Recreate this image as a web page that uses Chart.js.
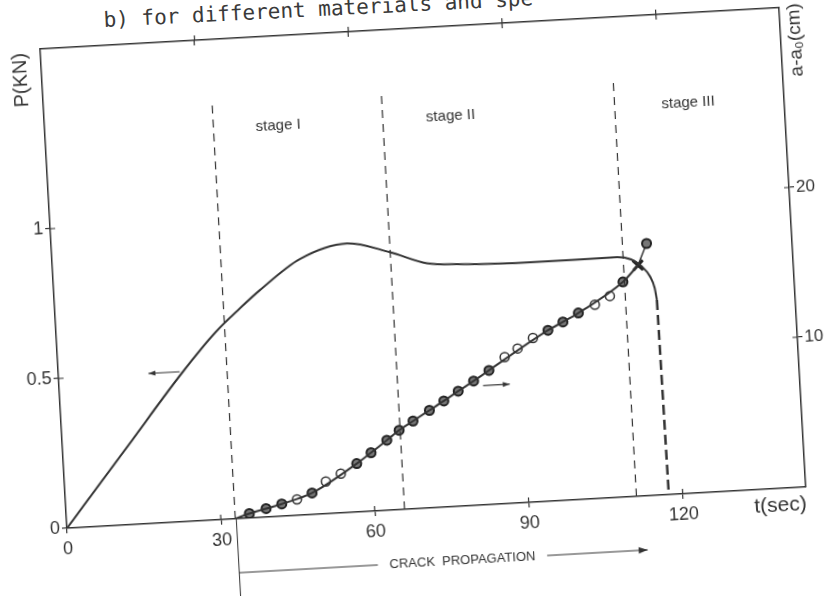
<!DOCTYPE html>
<html>
<head>
<meta charset="utf-8">
<script src="https://cdn.jsdelivr.net/npm/chart.js@4.4.1/dist/chart.umd.min.js"></script>
<style>
    html, body { margin: 0; padding: 0; background: #fff; overflow: hidden; }
    body { width: 829px; height: 596px; position: relative; }
    /* the scanned figure sits a little skewed on the page */
    #wrap { position: absolute; left: 0; top: 0; width: 829px; height: 596px;
            transform-origin: 423px 268px; transform: rotate(-3.2deg); }
    #caption { position: absolute; left: 103px; top: 8px; white-space: nowrap;
               font: 21px 'DejaVu Sans Mono', monospace; color: #3a3a3a;
               transform-origin: 0 0; transform: rotate(-2.9deg); }
</style>
</head>
<body>
<div id="caption">b) for different materials and spe</div>
<div id="wrap"><canvas id="chart" width="829" height="596"></canvas></div>
<script>
// axes
const tMax = 144;
const pMax = 1.6;
const aMax = 32;
const tickT = [0, 30, 60, 90, 120];
const topTickT = [30, 60, 90, 120];
const tickP = [0, 0.5, 1];
const tickA = [10, 20];

// load P (kN) against time
const loadT = [0, 12.5, 24, 31, 36, 40.1, 48.2, 57.5, 65.7, 72.8, 79.2, 93.4, 109.8, 112.5, 114.5, 116, 116.8, 117.1];
const loadP = [0, 0.258, 0.495, 0.625, 0.7, 0.757, 0.853, 0.896, 0.859, 0.815, 0.806, 0.799, 0.80, 0.79, 0.765, 0.73, 0.69, 0.65];
// final drop (dashed)
const dropT = [117.1, 117.3];
const dropP = [0.65, 0];

// crack length a-a0 (cm)
const crackT = [32.7, 35.6, 38.9, 42.0, 48.0, 57.0, 59.9, 63.1, 65.6, 68.4, 71.7, 74.6, 77.5, 80.6, 83.7, 95.6, 98.6, 101.7, 110.7, 113.8];
const crackA = [0, 0.3, 0.57, 0.82, 1.44, 3.23, 3.9, 4.67, 5.29, 5.85, 6.5, 7.07, 7.67, 8.29, 8.94, 11.39, 11.89, 12.43, 14.33, 15.38];
const fillT = [35.6, 38.9, 42.0, 48.0, 57.0, 59.9, 63.1, 65.6, 68.4, 71.7, 74.6, 77.5, 80.6, 83.7, 95.6, 98.6, 101.7, 110.7];
const fillA = [0.3, 0.57, 0.82, 1.44, 3.23, 3.9, 4.67, 5.29, 5.85, 6.5, 7.07, 7.67, 8.29, 8.94, 11.39, 11.89, 12.43, 14.33];
const openT = [45.0, 50.8, 53.8, 86.9, 89.5, 92.6, 105.0, 108.0];
const openA = [1.07, 2.15, 2.62, 9.77, 10.29, 10.93, 12.92, 13.44];
const tipT = [113.8, 115.7];
const tipA = [15.38, 16.8];

// stage boundaries
const stageT = [32.8, 65.8, 111];
const stageTop = 1.38;
const stageNames = ['stage I', 'stage II', 'stage III'];
const stageLabelT = [45.4, 79, 125.3];

const ink = '#333';
const sans = "'Liberation Sans', Arial, sans-serif";

const pts = (xs, ys) => xs.map((x, i) => ({ x: x, y: ys[i] }));

function arrow(ctx, x1, y1, x2, y2, head) {
    ctx.beginPath();
    ctx.moveTo(x1, y1);
    ctx.lineTo(x2, y2);
    ctx.stroke();
    const dir = Math.sign(x2 - x1);
    ctx.beginPath();
    ctx.moveTo(x2, y2);
    ctx.lineTo(x2 - dir * head, y2 - head * 0.35);
    ctx.lineTo(x2 - dir * head, y2 + head * 0.35);
    ctx.closePath();
    ctx.fill();
}

function vtext(ctx, str, cx, cy, font) {
    ctx.save();
    ctx.translate(cx, cy);
    ctx.rotate(-Math.PI / 2);
    ctx.font = font;
    ctx.textAlign = 'center';
    ctx.textBaseline = 'middle';
    ctx.fillText(str, 0, 0);
    ctx.restore();
}

// labels, arrows and the inner half of each tick cross
const extras = {
    id: 'extras',
    afterDraw(chart) {
        const { ctx, chartArea: area } = chart;
        const { x, x2, y, y2 } = chart.scales;
        ctx.save();
        ctx.strokeStyle = ink;
        ctx.fillStyle = ink;
        ctx.lineWidth = 1.2;

        ctx.beginPath();
        tickT.filter(v => v > 0).forEach(v => {
            const px = x.getPixelForValue(v);
            ctx.moveTo(px, area.bottom); ctx.lineTo(px, area.bottom - 5);
        });
        topTickT.forEach(v => {
            const px = x2.getPixelForValue(v);
            ctx.moveTo(px, area.top); ctx.lineTo(px, area.top + 5);
        });
        tickP.filter(v => v > 0).forEach(v => {
            const py = y.getPixelForValue(v);
            ctx.moveTo(area.left, py); ctx.lineTo(area.left + 5, py);
        });
        tickA.forEach(v => {
            const py = y2.getPixelForValue(v);
            ctx.moveTo(area.right, py); ctx.lineTo(area.right - 5, py);
        });
        ctx.stroke();

        // stage labels
        ctx.font = '15px ' + sans;
        ctx.textAlign = 'center';
        ctx.textBaseline = 'middle';
        stageNames.forEach((s, i) => {
            ctx.fillText(s, x.getPixelForValue(stageLabelT[i]), y.getPixelForValue(1.3));
        });

        // arrows telling which axis each curve belongs to
        arrow(ctx, x.getPixelForValue(23.6), y.getPixelForValue(0.5), x.getPixelForValue(17.5), y.getPixelForValue(0.5), 7);
        arrow(ctx, x.getPixelForValue(82.4), y2.getPixelForValue(7.95), x.getPixelForValue(87.6), y2.getPixelForValue(7.95), 7);

        // crack propagation span below the axis
        const cy = y.getPixelForValue(-0.18);
        const x0 = x.getPixelForValue(33);
        ctx.lineWidth = 1;
        ctx.beginPath();
        ctx.moveTo(x0, area.bottom);
        ctx.lineTo(x0, y.getPixelForValue(-0.26));
        ctx.moveTo(x0, cy);
        ctx.lineTo(x.getPixelForValue(60), cy);
        ctx.stroke();
        arrow(ctx, x.getPixelForValue(93), cy, x.getPixelForValue(112.6), cy, 9);
        ctx.font = '13px ' + sans;
        ctx.fillText('CRACK  PROPAGATION', x.getPixelForValue(76.5), cy);

        // axis titles
        vtext(ctx, 'P(KN)', area.left - 21, y.getPixelForValue(1.5), '20px ' + sans);
        vtext(ctx, 'a-a\u2080(cm)', area.right + 15, y.getPixelForValue(1.49), '19px ' + sans);
        ctx.font = '21px ' + sans;
        ctx.textAlign = 'right';
        ctx.fillText('t(sec)', area.right, y.getPixelForValue(-0.056));
        ctx.restore();
    }
};

const gridOpts = { drawOnChartArea: false, tickLength: 5, color: ink, lineWidth: 1.2 };
const borderOpts = { color: ink, width: 1.5 };
const tickFont = { family: sans, size: 18 };
const setTicks = list => scale => { scale.ticks = list.map(v => ({ value: v })); };

const ctx = document.getElementById('chart').getContext('2d');
new Chart(ctx, {
    type: 'line',
    data: {
        datasets: [
            ...stageT.map(t => ({
                data: pts([t, t], [0, stageTop]), yAxisID: 'y',
                borderColor: ink, borderWidth: 1.2, borderDash: [8, 6], pointRadius: 0
            })),
            {
                data: pts(loadT, loadP), yAxisID: 'y',
                borderColor: ink, borderWidth: 2, pointRadius: 0, cubicInterpolationMode: 'monotone'
            },
            {
                data: pts(dropT, dropP), yAxisID: 'y',
                borderColor: ink, borderWidth: 2.5, borderDash: [10, 5], pointRadius: 0
            },
            {
                data: pts(crackT, crackA), yAxisID: 'y2',
                borderColor: ink, borderWidth: 2, pointRadius: 0, cubicInterpolationMode: 'monotone'
            },
            {
                data: pts(tipT, tipA), yAxisID: 'y2',
                borderColor: ink, borderWidth: 1.5, pointRadius: [0, 4.5],
                pointBackgroundColor: '#777', pointBorderColor: '#222', pointBorderWidth: 2
            },
            {
                data: pts(openT, openA), yAxisID: 'y2', showLine: false,
                pointRadius: 4.5, pointBackgroundColor: '#fff', pointBorderColor: ink, pointBorderWidth: 1.5
            },
            {
                data: pts(fillT, fillA), yAxisID: 'y2', showLine: false,
                pointRadius: 4.5, pointBackgroundColor: '#777', pointBorderColor: '#222', pointBorderWidth: 2
            },
            {
                data: pts([tipT[0]], [tipA[0]]), yAxisID: 'y2', showLine: false,
                pointStyle: 'crossRot', pointRadius: 7, pointBorderWidth: 3, pointBorderColor: '#222'
            }
        ]
    },
    options: {
        responsive: false,
        animation: false,
        layout: { padding: 0 },
        plugins: { legend: { display: false }, tooltip: { enabled: false } },
        scales: {
            x: {
                type: 'linear', position: 'bottom', min: 0, max: tMax,
                afterBuildTicks: setTicks(tickT),
                afterFit: s => { s.height = 88; },
                ticks: { font: tickFont, color: ink, padding: 5, maxRotation: 0, autoSkip: false },
                grid: gridOpts, border: borderOpts
            },
            x2: {
                type: 'linear', position: 'top', min: 0, max: tMax,
                afterBuildTicks: setTicks(topTickT),
                afterFit: s => { s.height = 28; },
                ticks: { display: false },
                grid: gridOpts, border: borderOpts
            },
            y: {
                type: 'linear', position: 'left', min: 0, max: pMax,
                afterBuildTicks: setTicks(tickP),
                afterFit: s => { s.width = 53; },
                ticks: { font: tickFont, color: ink, padding: 2, callback: v => String(v) },
                grid: gridOpts, border: borderOpts
            },
            y2: {
                type: 'linear', position: 'right', min: 0, max: aMax,
                afterBuildTicks: setTicks(tickA),
                afterFit: s => { s.width = 36; },
                ticks: { font: { family: sans, size: 17 }, color: ink, padding: 2 },
                grid: gridOpts, border: borderOpts
            }
        }
    },
    plugins: [extras]
});
</script>
</body>
</html>
